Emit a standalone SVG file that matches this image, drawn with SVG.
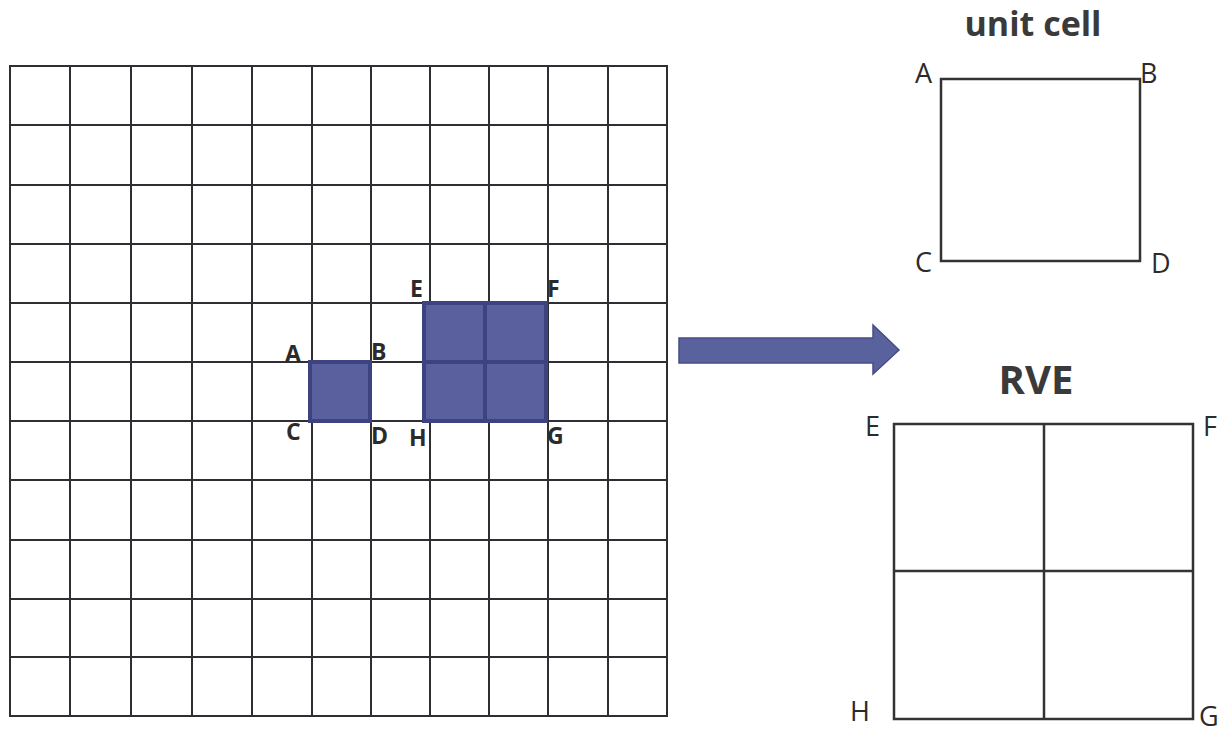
<svg xmlns="http://www.w3.org/2000/svg" width="1230" height="732" viewBox="0 0 1230 732">
<style>
.grid{stroke:#2f2f33;stroke-width:2;fill:none}
.cell{fill:#5a609e;stroke:#3d4380;stroke-width:4}
.lb{font-family:"Open Sans","Liberation Sans",sans-serif;font-weight:bold;font-size:23px;fill:#2b2b2b}
.lr{font-family:"Open Sans","Liberation Sans",sans-serif;font-size:27px;fill:#2b2b2b}
.title{font-family:"Open Sans","Liberation Sans",sans-serif;font-weight:bold;fill:#3a3a3a}
.box{stroke:#333;stroke-width:2.5;fill:none}
</style>
<rect width="1230" height="732" fill="#fff"/>
<g id="grid">
<rect class="grid" x="10" y="66" width="657" height="650"/>
<path class="grid" d="M70 66V716M131 66V716M192 66V716M252 66V716M312 66V716M371 66V716M430 66V716M489 66V716M548 66V716M608 66V716M10 125H667M10 185H667M10 244H667M10 303H667M10 362H667M10 421H667M10 480H667M10 540H667M10 599H667M10 657H667"/>
</g>
<g id="unit-cell-highlight">
<rect class="cell" x="310" y="362" width="60" height="59"/>
<text class="lb" x="285" y="362">A</text>
<text class="lb" x="371" y="360">B</text>
<text class="lb" x="286" y="440">C</text>
<text class="lb" x="371" y="444">D</text>
</g>
<g id="rve-highlight">
<rect class="cell" x="424" y="303" width="61" height="59"/>
<rect class="cell" x="485" y="303" width="61" height="59"/>
<rect class="cell" x="424" y="362" width="61" height="59"/>
<rect class="cell" x="485" y="362" width="61" height="59"/>
<text class="lb" x="410" y="297">E</text>
<text class="lb" x="547" y="297">F</text>
<text class="lb" x="409" y="446">H</text>
<text class="lb" x="547" y="444">G</text>
</g>
<g id="connectors">
<path d="M679 338H873V325L899 350L873 374V363H679Z" fill="#5a629e" stroke="#454c88" stroke-width="1.5"/>
</g>
<g id="unit-cell">
<text class="title" x="1033" y="36" font-size="34" text-anchor="middle">unit cell</text>
<rect class="box" x="941" y="79" width="199" height="182"/>
<text class="lr" x="915" y="83">A</text>
<text class="lr" x="1140" y="83">B</text>
<text class="lr" x="915" y="272">C</text>
<text class="lr" x="1151" y="273">D</text>
</g>
<g id="rve">
<text class="title" x="1036" y="394" font-size="40" text-anchor="middle">RVE</text>
<rect class="box" x="894" y="424" width="299" height="295"/>
<path class="box" d="M1044 424V719M894 571H1193"/>
<text class="lr" x="865" y="436" font-size="30">E</text>
<text class="lr" x="1203" y="436" font-size="30">F</text>
<text class="lr" x="850" y="721" font-size="30">H</text>
<text class="lr" x="1199" y="726" font-size="30">G</text>
</g>
</svg>
